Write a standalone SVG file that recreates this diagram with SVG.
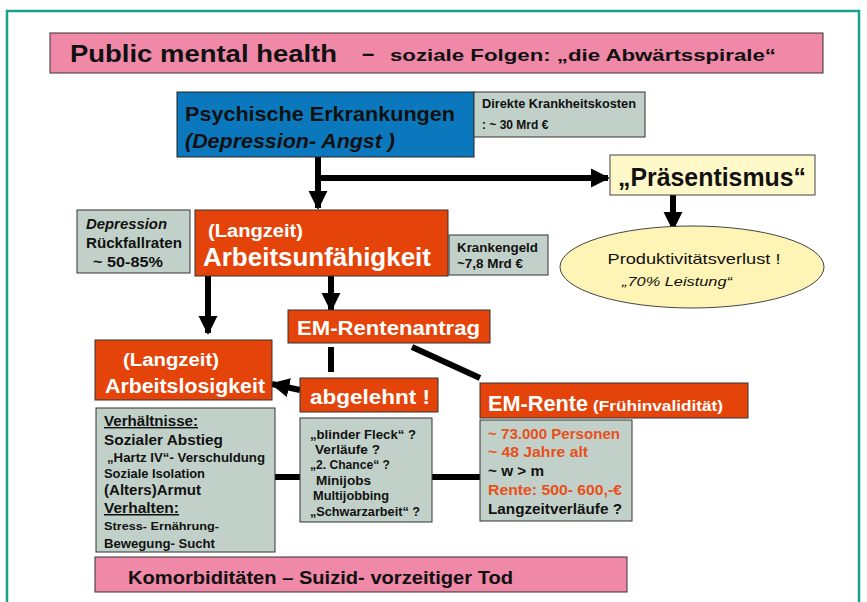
<svg xmlns="http://www.w3.org/2000/svg" width="867" height="602" viewBox="0 0 867 602">
<defs>
<marker id="ah" viewBox="0 0 10 10" refX="9" refY="5" markerWidth="3.2" markerHeight="3.2" orient="auto" markerUnits="strokeWidth">
<path d="M0,0 L10,5 L0,10 Z" fill="#000"/>
</marker>
</defs>
<style>
text{font-family:"Liberation Sans",Arial,sans-serif;font-weight:bold;}
.pink{fill:#f088a8;stroke:#333;stroke-width:1;}
.blue{fill:#0b78bd;stroke:#222;stroke-width:1;}
.gray{fill:#c1d1c9;stroke:#333;stroke-width:1;}
.org{fill:#e4440a;stroke:#333;stroke-width:1;}
.yel{fill:#fff9c9;stroke:#444;stroke-width:1;}
.ell{fill:#fdf4b6;stroke:#444;stroke-width:1;}
.w{fill:#fff;}
.k{fill:#111;}
.o{fill:#e8501a;}
.c{stroke:#000;stroke-width:6;fill:none;}
.ca{stroke:#000;stroke-width:6;fill:none;marker-end:url(#ah);}
</style>
<rect x="0" y="0" width="867" height="602" fill="#fff"/>
<rect x="7" y="11" width="852" height="600" fill="none" stroke="#1aa08c" stroke-width="2.5"/>

<g id="connectors">
<line class="c" x1="318" y1="157" x2="318" y2="178"/>
<line class="ca" x1="318" y1="157" x2="318" y2="208"/>
<line class="ca" x1="318" y1="178" x2="608" y2="178"/>
<line class="ca" x1="673" y1="195" x2="673" y2="229"/>
<line class="ca" x1="208" y1="276" x2="208" y2="333"/>
<line class="ca" x1="331" y1="276" x2="331" y2="310"/>
<line class="c" x1="331" y1="347" x2="331" y2="372"/>
<line class="ca" x1="300" y1="390" x2="272" y2="384"/>
<line class="c" x1="412" y1="347" x2="480" y2="378"/>
<line class="c" x1="275" y1="477" x2="300" y2="477"/>
<line class="c" x1="432" y1="477" x2="480" y2="477"/>
</g>

<g id="title">
<rect class="pink" x="50" y="33" width="773" height="40"/>
<text class="k" x="70" y="62" font-size="23" textLength="267" lengthAdjust="spacingAndGlyphs">Public mental health</text>
<text class="k" x="362" y="61" font-size="22">–</text>
<text class="k" x="390" y="61" font-size="17" textLength="386" lengthAdjust="spacingAndGlyphs">soziale Folgen:  „die Abwärtsspirale“</text>
</g>

<g id="psychische">
<rect class="blue" x="177" y="92" width="297" height="65"/>
<text class="k" x="185" y="121" font-size="21" textLength="270" lengthAdjust="spacingAndGlyphs">Psychische Erkrankungen</text>
<text class="k" x="185" y="148" font-size="21" font-style="italic" textLength="210" lengthAdjust="spacingAndGlyphs">(Depression- Angst )</text>
</g>

<g id="kosten">
<rect class="gray" x="474" y="92" width="171" height="45"/>
<text class="k" x="482" y="108" font-size="12" textLength="154" lengthAdjust="spacingAndGlyphs">Direkte Krankheitskosten</text>
<text class="k" x="482" y="129" font-size="12">: ~ 30 Mrd €</text>
</g>

<g id="praesentismus">
<rect class="yel" x="610" y="155" width="205" height="40"/>
<text class="k" x="712" y="186" font-size="25" text-anchor="middle" textLength="188" lengthAdjust="spacingAndGlyphs">„Präsentismus“</text>
</g>

<g id="produktivitaet">
<ellipse class="ell" cx="692" cy="267" rx="132" ry="41"/>
<text class="k" x="694" y="264" font-size="15" font-weight="normal" style="font-weight:normal" text-anchor="middle" textLength="173" lengthAdjust="spacingAndGlyphs">Produktivitätsverlust !</text>
<text class="k" x="622" y="286" font-size="13" font-style="italic" style="font-weight:normal" textLength="110" lengthAdjust="spacingAndGlyphs">„70% Leistung“</text>
</g>

<g id="rueckfall">
<rect class="gray" x="77" y="210" width="113" height="63"/>
<text class="k" x="86" y="229" font-size="14" font-style="italic" textLength="81" lengthAdjust="spacingAndGlyphs">Depression</text>
<text class="k" x="86" y="248" font-size="14" textLength="96" lengthAdjust="spacingAndGlyphs">Rückfallraten</text>
<text class="k" x="93" y="267" font-size="14" textLength="70" lengthAdjust="spacingAndGlyphs">~ 50-85%</text>
</g>

<g id="arbeitsunfaehigkeit">
<rect class="org" x="195" y="210" width="253" height="66"/>
<text class="w" x="208" y="237" font-size="18" textLength="95" lengthAdjust="spacingAndGlyphs">(Langzeit)</text>
<text class="w" x="203" y="266" font-size="25" textLength="228" lengthAdjust="spacingAndGlyphs">Arbeitsunfähigkeit</text>
</g>

<g id="krankengeld">
<rect class="gray" x="449" y="235" width="99" height="40"/>
<text class="k" x="457" y="252" font-size="12" textLength="81" lengthAdjust="spacingAndGlyphs">Krankengeld</text>
<text class="k" x="457" y="268" font-size="12" textLength="66" lengthAdjust="spacingAndGlyphs">~7,8 Mrd €</text>
</g>

<g id="rentenantrag">
<rect class="org" x="288" y="310" width="202" height="33"/>
<text class="w" x="297" y="335" font-size="20" textLength="183" lengthAdjust="spacingAndGlyphs">EM-Rentenantrag</text>
</g>

<g id="arbeitslosigkeit">
<rect class="org" x="95" y="340" width="177" height="60"/>
<text class="w" x="123" y="366" font-size="18" textLength="96" lengthAdjust="spacingAndGlyphs">(Langzeit)</text>
<text class="w" x="105" y="393" font-size="20" textLength="160" lengthAdjust="spacingAndGlyphs">Arbeitslosigkeit</text>
</g>

<g id="abgelehnt">
<rect class="org" x="300" y="378" width="138" height="34"/>
<text class="w" x="310" y="404" font-size="21" textLength="120" lengthAdjust="spacingAndGlyphs">abgelehnt !</text>
</g>

<g id="emrente">
<rect class="org" x="480" y="383" width="268" height="35"/>
<text class="w" x="488" y="411" font-size="22" textLength="100" lengthAdjust="spacingAndGlyphs">EM-Rente</text>
<text class="w" x="593" y="411" font-size="15" textLength="130" lengthAdjust="spacingAndGlyphs">(Frühinvalidität)</text>
</g>

<g id="statistik">
<rect class="gray" x="480" y="420" width="152" height="101"/>
<text class="o" x="488" y="439" font-size="14" textLength="132" lengthAdjust="spacingAndGlyphs">~ 73.000 Personen</text>
<text class="o" x="488" y="457" font-size="14" textLength="100" lengthAdjust="spacingAndGlyphs">~ 48 Jahre alt</text>
<text class="k" x="488" y="476" font-size="14" textLength="56" lengthAdjust="spacingAndGlyphs">~ w &gt; m</text>
<text class="o" x="488" y="495" font-size="14" textLength="134" lengthAdjust="spacingAndGlyphs">Rente: 500- 600,-€</text>
<text class="k" x="488" y="514" font-size="14" textLength="134" lengthAdjust="spacingAndGlyphs">Langzeitverläufe ?</text>
</g>

<g id="verhaeltnisse">
<rect class="gray" x="96" y="408" width="179" height="144"/>
<text class="k" x="104" y="426" font-size="14" text-decoration="underline" textLength="94" lengthAdjust="spacingAndGlyphs">Verhältnisse:</text>
<text class="k" x="104" y="445" font-size="15" textLength="119" lengthAdjust="spacingAndGlyphs">Sozialer Abstieg</text>
<text class="k" x="107" y="462" font-size="12" textLength="158" lengthAdjust="spacingAndGlyphs">„Hartz IV“- Verschuldung</text>
<text class="k" x="104" y="478" font-size="12" textLength="101" lengthAdjust="spacingAndGlyphs">Soziale Isolation</text>
<text class="k" x="104" y="495" font-size="15" textLength="97" lengthAdjust="spacingAndGlyphs">(Alters)Armut</text>
<text class="k" x="104" y="513" font-size="15" text-decoration="underline" textLength="75" lengthAdjust="spacingAndGlyphs">Verhalten:</text>
<text class="k" x="104" y="530" font-size="11" textLength="115" lengthAdjust="spacingAndGlyphs">Stress- Ernährung-</text>
<text class="k" x="104" y="548" font-size="12" textLength="111" lengthAdjust="spacingAndGlyphs">Bewegung- Sucht</text>
</g>

<g id="fragen">
<rect class="gray" x="300" y="418" width="132" height="104"/>
<text class="k" x="310" y="439" font-size="12" textLength="106" lengthAdjust="spacingAndGlyphs">„blinder Fleck“  ?</text>
<text class="k" x="315" y="454" font-size="12" textLength="65" lengthAdjust="spacingAndGlyphs">Verläufe ?</text>
<text class="k" x="310" y="469" font-size="12" textLength="80" lengthAdjust="spacingAndGlyphs">„2. Chance“ ?</text>
<text class="k" x="316" y="485" font-size="12" textLength="55" lengthAdjust="spacingAndGlyphs">Minijobs</text>
<text class="k" x="313" y="500" font-size="12" textLength="76" lengthAdjust="spacingAndGlyphs">Multijobbing</text>
<text class="k" x="310" y="516" font-size="12" textLength="110" lengthAdjust="spacingAndGlyphs">„Schwarzarbeit“ ?</text>
</g>

<g id="komorbiditaeten">
<rect class="pink" x="95" y="557" width="532" height="35"/>
<text class="k" x="128" y="584" font-size="18" textLength="385" lengthAdjust="spacingAndGlyphs">Komorbiditäten – Suizid- vorzeitiger Tod</text>
</g>
</svg>
